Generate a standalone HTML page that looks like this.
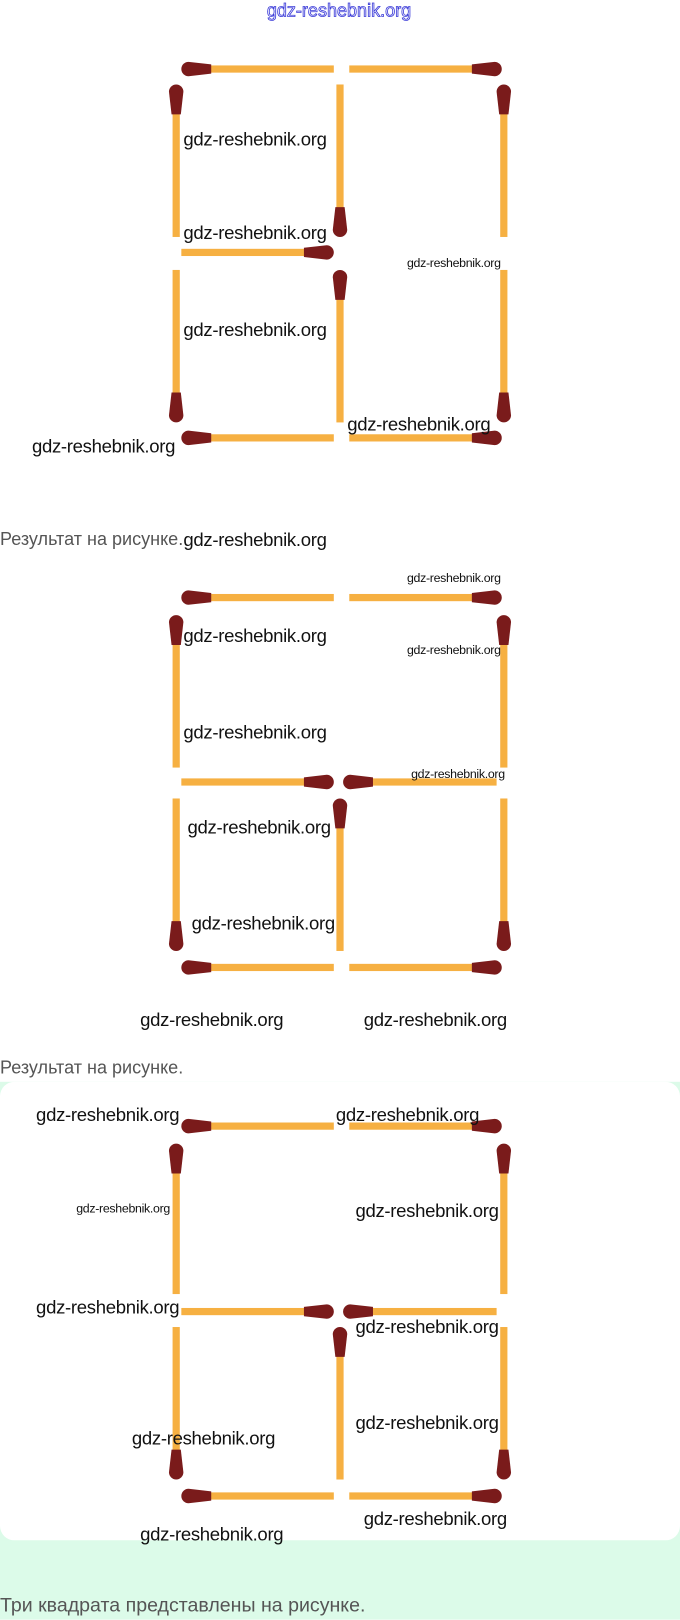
<!DOCTYPE html>
<html><head><meta charset="utf-8">
<style>
html,body{margin:0;padding:0;background:#fff;width:680px;height:1619px;overflow:hidden}
#w{position:absolute;left:0;top:0;width:660px;height:1572px;transform:scale(1.0303);transform-origin:0 0;}
.g{position:absolute;left:0;top:1050px;width:660px;height:522px;background:#dcfbe9}
.card{position:absolute;left:0;top:1050px;width:660px;height:445px;background:#fff;border-radius:14px}
.l{position:absolute;font-family:"Liberation Sans",sans-serif;font-size:18px;line-height:20px;color:#111;white-space:nowrap;letter-spacing:-0.3px;margin-top:2px}
.s{position:absolute;font-family:"Liberation Sans",sans-serif;font-size:12px;line-height:14px;color:#111;white-space:nowrap;letter-spacing:-0.3px;margin-top:1px}
.t{position:absolute;font-family:"Liberation Sans",sans-serif;font-size:17.5px;line-height:20px;color:#555;white-space:nowrap;margin-top:2px}
.ti{position:absolute;left:259px;top:0px;font-family:"Liberation Sans",sans-serif;font-size:17.5px;color:#fff;-webkit-text-stroke:0.8px #3a3ad8;white-space:nowrap}
svg{position:absolute;left:0;top:0}
</style></head><body>
<div id="w">
<div class="g"></div><div class="card"></div>
<svg id="sv" width="660" height="1572"></svg>
<div class="ti">gdz-reshebnik.org</div>

<div class="l" style="left:178px;top:123px">gdz-reshebnik.org</div>
<div class="l" style="left:178px;top:214px">gdz-reshebnik.org</div>
<div class="s" style="left:395px;top:247px">gdz-reshebnik.org</div>
<div class="l" style="left:178px;top:308px">gdz-reshebnik.org</div>
<div class="l" style="left:31px;top:421px">gdz-reshebnik.org</div>
<div class="l" style="left:337px;top:400px">gdz-reshebnik.org</div>
<div class="t" style="left:0;top:511px">Результат на рисунке.</div>
<div class="l" style="left:178px;top:512px">gdz-reshebnik.org</div>

<div class="s" style="left:395px;top:553px">gdz-reshebnik.org</div>
<div class="l" style="left:178px;top:605px">gdz-reshebnik.org</div>
<div class="s" style="left:395px;top:623px">gdz-reshebnik.org</div>
<div class="l" style="left:178px;top:699px">gdz-reshebnik.org</div>
<div class="s" style="left:399px;top:743px">gdz-reshebnik.org</div>
<div class="l" style="left:182px;top:791px">gdz-reshebnik.org</div>
<div class="l" style="left:186px;top:884px">gdz-reshebnik.org</div>
<div class="l" style="left:136px;top:978px">gdz-reshebnik.org</div>
<div class="l" style="left:353px;top:978px">gdz-reshebnik.org</div>
<div class="t" style="left:0;top:1024px">Результат на рисунке.</div>

<div class="l" style="left:35px;top:1070px">gdz-reshebnik.org</div>
<div class="l" style="left:326px;top:1070px">gdz-reshebnik.org</div>
<div class="s" style="left:74px;top:1165px">gdz-reshebnik.org</div>
<div class="l" style="left:345px;top:1163px">gdz-reshebnik.org</div>
<div class="l" style="left:35px;top:1257px">gdz-reshebnik.org</div>
<div class="l" style="left:345px;top:1276px">gdz-reshebnik.org</div>
<div class="l" style="left:128px;top:1384px">gdz-reshebnik.org</div>
<div class="l" style="left:345px;top:1369px">gdz-reshebnik.org</div>
<div class="l" style="left:353px;top:1462px">gdz-reshebnik.org</div>
<div class="l" style="left:136px;top:1477px">gdz-reshebnik.org</div>
<div class="t" style="left:0;top:1547px;font-size:19px">Три квадрата представлены на рисунке.</div>
</div>
<script>
var sv=document.getElementById('sv'),h='';
var S='#f6b042',H='#7a1b1b';
function hm(x1,x2,y,hd){
 var a=x1,b=x2;
 if(hd=='l')a=x1+20; if(hd=='r')b=x2-20;
 h+='<rect x="'+a+'" y="'+(y-3.5)+'" width="'+(b-a)+'" height="7" fill="'+S+'"/>';
 if(hd=='l'){h+='<path d="M'+(x1+29)+' '+(y-4.5)+' L'+(x1+7)+' '+(y-7)+' A7 7 0 0 0 '+(x1+7)+' '+(y+7)+' L'+(x1+29)+' '+(y+4.5)+'Z" fill="'+H+'"/>';}
 else if(hd=='r'){h+='<path d="M'+(x2-29)+' '+(y-4.5)+' L'+(x2-7)+' '+(y-7)+' A7 7 0 0 1 '+(x2-7)+' '+(y+7)+' L'+(x2-29)+' '+(y+4.5)+'Z" fill="'+H+'"/>';}
}
function vm(x,y1,y2,hd){
 var a=y1,b=y2;
 if(hd=='t')a=y1+20; if(hd=='b')b=y2-20;
 h+='<rect x="'+(x-3.5)+'" y="'+a+'" width="7" height="'+(b-a)+'" fill="'+S+'"/>';
 if(hd=='t'){h+='<path d="M'+(x-4.5)+' '+(y1+29)+' L'+(x-7)+' '+(y1+7)+' A7 7 0 0 1 '+(x+7)+' '+(y1+7)+' L'+(x+4.5)+' '+(y1+29)+'Z" fill="'+H+'"/>';}
 else if(hd=='b'){h+='<path d="M'+(x-4.5)+' '+(y2-29)+' L'+(x-7)+' '+(y2-7)+' A7 7 0 0 0 '+(x+7)+' '+(y2-7)+' L'+(x+4.5)+' '+(y2-29)+'Z" fill="'+H+'"/>';}
}
hm(176,324,67,'l');hm(339,487,67,'r');
vm(171,82,230,'t');vm(330,82,230,'b');vm(489,82,230,'t');
hm(176,324,245,'r');
vm(171,262,410,'b');vm(330,262,410,'t');vm(489,262,410,'b');
hm(176,324,425,'l');hm(339,487,425,'r');
hm(176,324,580,'l');hm(339,487,580,'r');
vm(171,597,745,'t');vm(489,597,745,'t');
hm(176,324,759,'r');hm(333,482,759,'l');
vm(171,775,923,'b');vm(330,775,923,'t');vm(489,775,923,'b');
hm(176,324,939,'l');hm(339,487,939,'r');
hm(176,324,1093,'l');hm(339,487,1093,'r');
vm(171,1110,1256,'t');vm(489,1110,1256,'t');
hm(176,324,1273,'r');hm(333,482,1273,'l');
vm(171,1288,1436,'b');vm(330,1288,1436,'t');vm(489,1288,1436,'b');
hm(176,324,1452,'l');hm(339,487,1452,'r');
sv.innerHTML=h;
</script>
</body></html>
